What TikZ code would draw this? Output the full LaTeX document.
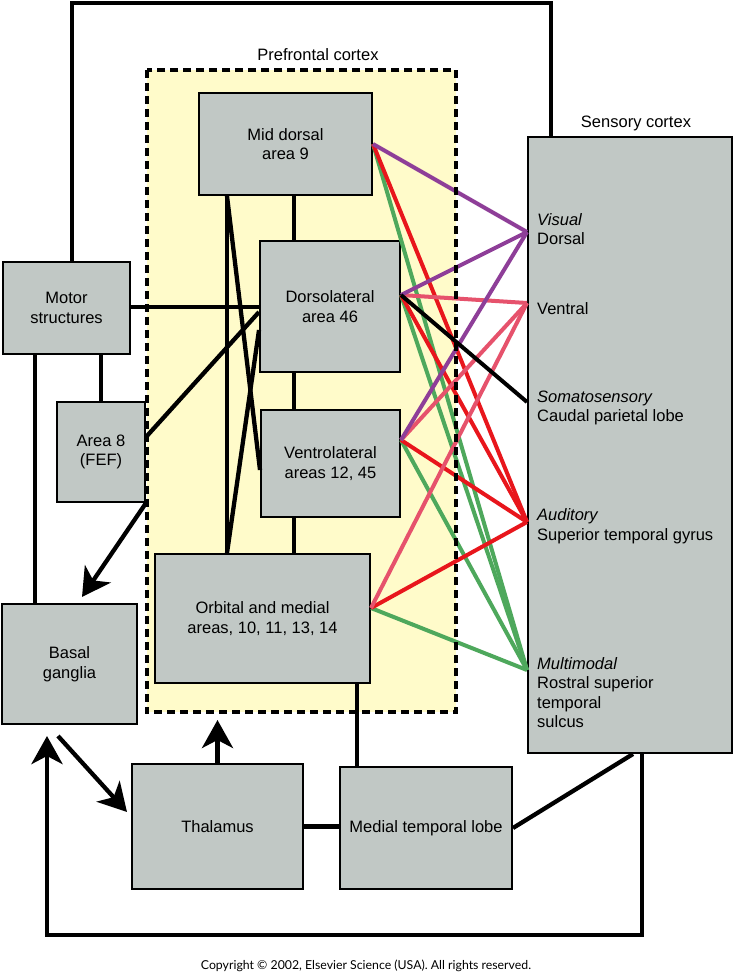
\documentclass[tikz,border=0pt]{standalone}
\usepackage{fontspec}
\setmainfont{Liberation Sans}
\newfontfamily\copyfont{Lato}
\usetikzlibrary{arrows.meta}

\definecolor{boxgray}{RGB}{193,200,197}
\definecolor{pfcyellow}{RGB}{255,251,202}
\definecolor{tractpurple}{RGB}{142,62,152}
\definecolor{tractred}{RGB}{232,22,28}
\definecolor{tractpink}{RGB}{230,82,108}
\definecolor{tractgreen}{RGB}{78,168,92}

\tikzset{
    area/.style={draw, line width=2pt, fill=boxgray, align=center, inner sep=0pt},
    sens/.style={anchor=west, align=left, inner sep=0pt},
    link/.style={line width=4.3pt},
    tract/.style={line width=4pt},
    loopline/.style={line width=4.8pt, line join=miter},
    bigarrow/.style={-{Stealth[length=28pt,width=31pt,inset=8pt]}},
}

\begin{document}
\begin{tikzpicture}[x=1pt,y=-1pt,font=\fontsize{16.5}{19.5}\selectfont]
    \useasboundingbox[fill=white] (0,0) rectangle (733,975);

    %Prefrontal cortex
    \node[fill=pfcyellow, minimum width=309pt, minimum height=642pt, inner sep=0pt] (pfc) at (301.5,391) {};
    \node (pfclabel) at (318,55) {Prefrontal cortex};
    \node[area, minimum width=173pt, minimum height=102pt] (md) at (285.5,144) {Mid dorsal\\area 9};
    \node[area, minimum width=140pt, minimum height=131pt] (dl) at (330,306.5) {Dorsolateral\\area 46};
    \node[area, minimum width=139pt, minimum height=107pt] (vl) at (330.5,463.5) {Ventrolateral\\areas 12, 45};
    \node[area, minimum width=215pt, minimum height=129pt] (ol) at (262.5,618.5) {Orbital and medial\\areas, 10, 11, 13, 14};

    %Left side
    \node[area, minimum width=127pt, minimum height=92pt] (ms) at (66.5,308) {Motor\\structures};
    \node[area, minimum width=88pt, minimum height=100pt] (ae) at (101,452) {Area 8\\(FEF)};
    \node[area, minimum width=135pt, minimum height=120pt] (bg) at (69.5,664) {Basal\\ganglia};

    %Bottom
    \node[area, minimum width=171pt, minimum height=125pt] (th) at (217.5,826.5) {Thalamus};
    \node[area, minimum width=172pt, minimum height=122pt] (mt) at (426,828) {Medial temporal lobe};

    %Sensory cortex
    \node (sclabel) at (636,123) {Sensory cortex};
    \node[area, minimum width=204pt, minimum height=616pt] (sc) at (630,445) {};
    \node[sens] (lvis) at (537,229) {\textit{Visual}\\Dorsal};
    \node[sens] (lven) at (537,309) {Ventral};
    \node[sens] (lsom) at (537,408) {\textit{Somatosensory}\\Caudal parietal lobe};
    \node[sens] (laud) at (537,526) {\textit{Auditory}\\Superior temporal gyrus};
    \node[sens] (lmul) at (537,692.5) {\textit{Multimodal}\\Rostral superior\\temporal\\sulcus};

    %Black connections
    \draw[link] (md.south -| 294,0) -- (dl.north -| 294,0);
    \draw[link] (dl.south -| 294,0) -- (vl.north -| 294,0);
    \draw[link] (vl.south -| 294,0) -- (ol.north -| 294,0);
    \draw[link] (md.south -| 227,0) -- (ol.north -| 227,0);
    \draw[link] (md.south -| 227,0) -- ([yshift=-6.5pt]vl.west);
    \draw[link] (ol.north -| 227,0) -- ([yshift=-23.5pt]dl.west);
    \draw[link] (ms.east |- 0,307) -- (dl.west |- 0,307);
    \draw[link] (ms.south -| ae.north) -- (ae.north);
    \draw[link] (ms.south -| 35,0) -- (bg.north -| 35,0);
    \draw[link] ([yshift=15pt]ae.east) -- ([yshift=-5.5pt]dl.west);
    \draw[link] (th.east) -- (th.east -| mt.west);
    \draw[link] (ol.south -| 357,0) -- (mt.north -| 357,0);
    \draw[link] (mt.east) -- (sc.south -| 633,0);

    %Arrows
    \coordinate (bgIn) at (82,597);
    \coordinate (bgOut) at (58,736);
    \coordinate (thIn) at (127,812);
    \draw[link,bigarrow] (ae.south east) -- (bgIn);
    \draw[link,bigarrow] (bgOut) -- (thIn);
    \draw[link,bigarrow] (th.north) -- (th.north |- 0,720);

    %Loops
    \coordinate (topL) at (72,3);
    \coordinate (topR) at (551,3);
    \coordinate (botR) at (642,935);
    \coordinate (botL) at (47,935);
    \draw[loopline] (ms.north -| topL) -- (topL) -- (topR) -- (sc.north -| topR);
    \draw[loopline,bigarrow] (sc.south -| botR) -- (botR) -- (botL) -- (botL |- 0,736);

    %Colored tracts
    \coordinate (mdOut) at (md.east);
    \coordinate (dlOut) at ([yshift=11.5pt]dl.east);
    \coordinate (vlOut) at ([yshift=23.5pt]vl.east);
    \coordinate (olOut) at ([yshift=10.5pt]ol.east);
    \coordinate (dorsal) at (sc.west |- 0,232);
    \coordinate (ventral) at (sc.west |- 0,303);
    \coordinate (caudal) at (sc.west |- 0,402);
    \coordinate (auditory) at (sc.west |- 0,522);
    \coordinate (multimodal) at (sc.west |- 0,670);
    \foreach \src in {mdOut,dlOut,vlOut,olOut} \draw[tract,tractgreen] (\src) -- (multimodal);
    \foreach \src in {mdOut,dlOut,vlOut,olOut} \draw[tract,tractred] (\src) -- (auditory);
    \foreach \src in {dlOut,vlOut,olOut} \draw[tract,tractpink] (\src) -- (ventral);
    \foreach \src in {mdOut,dlOut,vlOut} \draw[tract,tractpurple] (\src) -- (dorsal);
    \draw[tract,black] (dlOut) -- (caudal);

    %Prefrontal border
    \draw[line width=4pt, dash pattern=on 8pt off 5pt] (pfc.north west) rectangle (pfc.south east);

    \node[font=\copyfont\fontsize{12.3}{14}\selectfont] (copy) at (366,966) {Copyright © 2002, Elsevier Science (USA). All rights reserved.};
\end{tikzpicture}
\end{document}
